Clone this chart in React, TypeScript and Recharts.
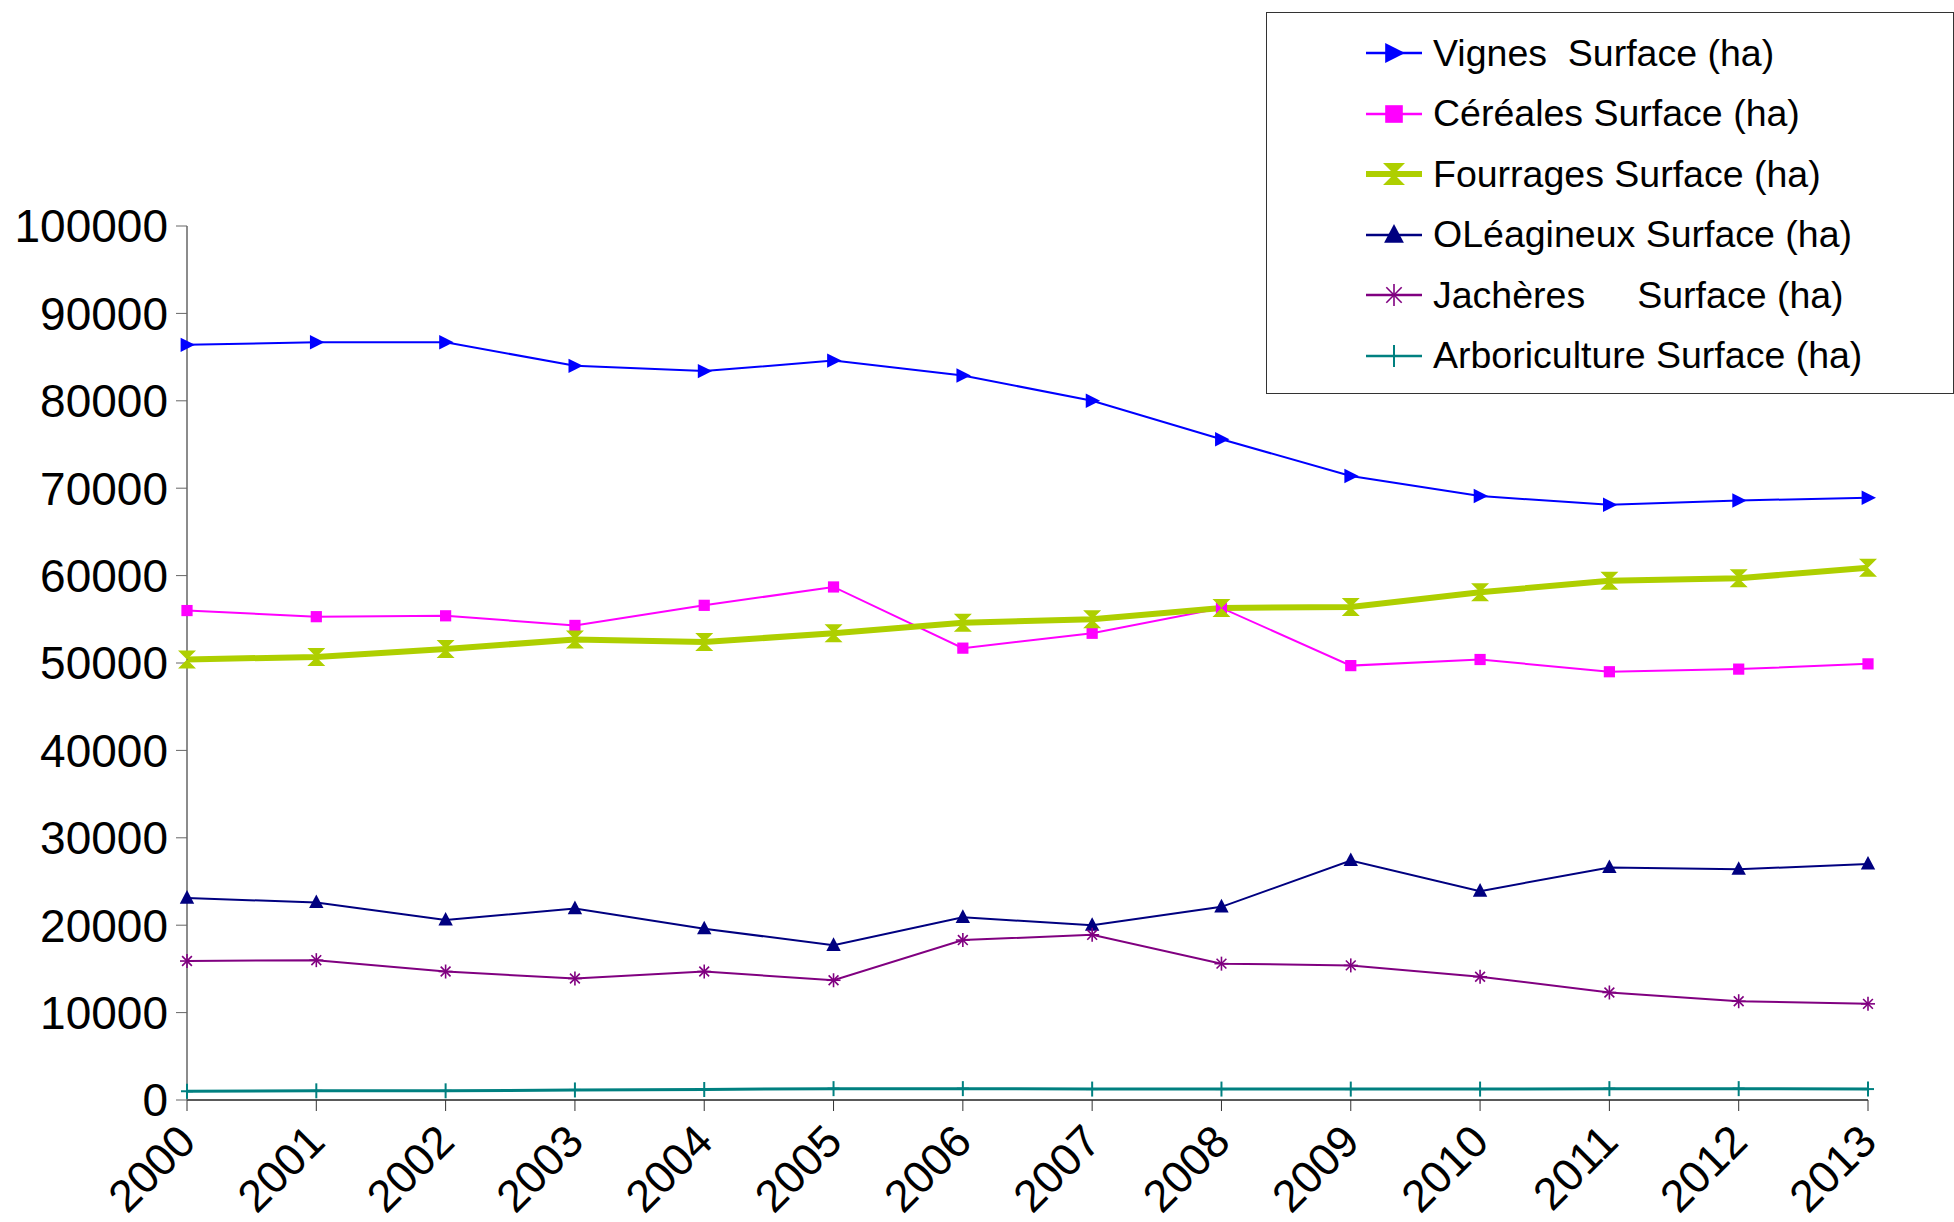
import { LineChart, Line, XAxis, YAxis, Legend } from 'recharts';

const years = ['2000', '2001', '2002', '2003', '2004', '2005', '2006', '2007', '2008', '2009', '2010', '2011', '2012', '2013'];
const vignes = [86400, 86700, 86700, 84000, 83400, 84600, 82900, 80000, 75600, 71400, 69100, 68100, 68600, 68900];
const cereales = [56000, 55300, 55400, 54300, 56600, 58700, 51700, 53400, 56300, 49700, 50400, 49000, 49300, 49900];
const fourrages = [50400, 50700, 51600, 52700, 52400, 53400, 54600, 55000, 56300, 56400, 58100, 59400, 59700, 60900];
const oleagineux = [23100, 22600, 20600, 21900, 19600, 17700, 20900, 20000, 22100, 27400, 23900, 26600, 26400, 27000];
const jacheres = [15900, 16000, 14700, 13900, 14700, 13700, 18300, 18900, 15600, 15400, 14100, 12300, 11300, 11000];
const arbo = [1000, 1050, 1050, 1150, 1200, 1300, 1300, 1250, 1250, 1250, 1250, 1300, 1300, 1250];
const yTicks = [0, 10000, 20000, 30000, 40000, 50000, 60000, 70000, 80000, 90000, 100000];

const series = [
  { key: 'vignes', name: 'Vignes  Surface (ha)', color: '#0000ff', width: 2, shape: 'triRight' },
  { key: 'cereales', name: 'Céréales Surface (ha)', color: '#ff00ff', width: 2, shape: 'square' },
  { key: 'fourrages', name: 'Fourrages Surface (ha)', color: '#aecf00', width: 6, shape: 'hourglass' },
  { key: 'oleagineux', name: 'OLéagineux Surface (ha)', color: '#000080', width: 2, shape: 'triUp' },
  { key: 'jacheres', name: 'Jachères     Surface (ha)', color: '#800080', width: 2, shape: 'star' },
  { key: 'arbo', name: 'Arboriculture Surface (ha)', color: '#008080', width: 3, shape: 'plus' },
];

const data = years.map((year, i) => ({
  year,
  vignes: vignes[i],
  cereales: cereales[i],
  fourrages: fourrages[i],
  oleagineux: oleagineux[i],
  jacheres: jacheres[i],
  arbo: arbo[i],
}));

const FONT = '"Liberation Sans", Arial, sans-serif';

function marker(shape: string, cx: number, cy: number, color: string, s: number, key?: string) {
  switch (shape) {
    case 'triRight':
      return <polygon key={key} points={`${cx - s * 0.8},${cy - s * 0.9} ${cx + s},${cy} ${cx - s * 0.8},${cy + s * 0.9}`} fill={color} />;
    case 'square':
      return <rect key={key} x={cx - s * 0.8} y={cy - s * 0.8} width={s * 1.6} height={s * 1.6} fill={color} />;
    case 'hourglass':
      return (
        <polygon
          key={key}
          points={`${cx - s},${cy - s} ${cx + s},${cy - s} ${cx},${cy} ${cx + s},${cy + s} ${cx - s},${cy + s} ${cx},${cy}`}
          fill={color}
        />
      );
    case 'triUp':
      return <polygon key={key} points={`${cx},${cy - s} ${cx + s * 0.9},${cy + s * 0.7} ${cx - s * 0.9},${cy + s * 0.7}`} fill={color} />;
    case 'star': {
      const d = s * 0.7;
      return (
        <g key={key} stroke={color} strokeWidth={1.6}>
          <line x1={cx} y1={cy - s} x2={cx} y2={cy + s} />
          <line x1={cx - d} y1={cy - d} x2={cx + d} y2={cy + d} />
          <line x1={cx - d} y1={cy + d} x2={cx + d} y2={cy - d} />
          <line x1={cx - s} y1={cy} x2={cx + s} y2={cy} />
        </g>
      );
    }
    default:
      return (
        <g key={key} stroke={color} strokeWidth={2}>
          <line x1={cx} y1={cy - s} x2={cx} y2={cy + s} />
          <line x1={cx - s * 0.8} y1={cy} x2={cx + s * 0.8} y2={cy} />
        </g>
      );
  }
}

const dotSize: Record<string, number> = { triRight: 8, square: 7, hourglass: 9, triUp: 8, star: 7, plus: 7.5 };

const XTick = (props: any) => {
  const { x, y, payload } = props;
  const px = x + 11;
  const py = y + 31;
  return (
    <text x={px} y={py} transform={`rotate(-45, ${px}, ${py})`} textAnchor="end" fontSize={45} fontFamily={FONT} fill="#000">
      {payload.value}
    </text>
  );
};

const renderLegend = () => (
  <div
    style={{
      width: 688,
      height: 382,
      boxSizing: 'border-box',
      border: '1px solid #333',
      background: '#fff',
      paddingTop: 10,
      fontFamily: FONT,
      fontSize: 37.5,
      color: '#000',
    }}
  >
    {series.map((s) => (
      <div key={s.key} style={{ height: 60.5, display: 'flex', alignItems: 'center', paddingLeft: 99 }}>
        <svg width={58} height={30} style={{ display: 'block' }}>
          <line x1={0} y1={15} x2={56} y2={15} stroke={s.color} strokeWidth={s.key === 'fourrages' ? 6 : 2.5} />
          {marker(s.shape, 28, 15, s.color, 11)}
        </svg>
        <span style={{ marginLeft: 9, whiteSpace: 'pre', lineHeight: 1 }}>{s.name}</span>
      </div>
    ))}
  </div>
);

export default function App() {
  return (
    <div style={{ width: 1954, height: 1222, background: '#fff' }}>
      <style>{`body{margin:0}`}</style>
      <LineChart width={1954} height={1222} data={data} margin={{ top: 226, right: 86, left: 0, bottom: 0 }}>
        <XAxis
          dataKey="year"
          height={122}
          tickSize={11}
          tick={<XTick />}
          interval={0}
          stroke="#333"
          axisLine={{ stroke: '#222', strokeWidth: 1.5 }}
          tickLine={{ stroke: '#333' }}
        />
        <YAxis
          width={187}
          domain={[0, 100000]}
          ticks={yTicks}
          interval={0}
          tickSize={11}
          tickMargin={8}
          axisLine={{ stroke: '#666', strokeWidth: 1.5 }}
          tickLine={{ stroke: '#666' }}
          tick={{ fontSize: 46, fontFamily: FONT, fill: '#000' }}
        />
        <Legend
          layout="vertical"
          align="center"
          verticalAlign="middle"
          content={renderLegend}
          wrapperStyle={{ position: 'absolute', left: 1266, top: 12, width: 688, height: 382 }}
        />
        {series.map((s) => (
          <Line
            key={s.key}
            dataKey={s.key}
            name={s.name}
            type="linear"
            stroke={s.color}
            strokeWidth={s.width}
            isAnimationActive={false}
            dot={(p: any) => marker(s.shape, p.cx, p.cy, s.color, dotSize[s.shape], `${s.key}-${p.index}`)}
            activeDot={false}
          />
        ))}
      </LineChart>
    </div>
  );
}
